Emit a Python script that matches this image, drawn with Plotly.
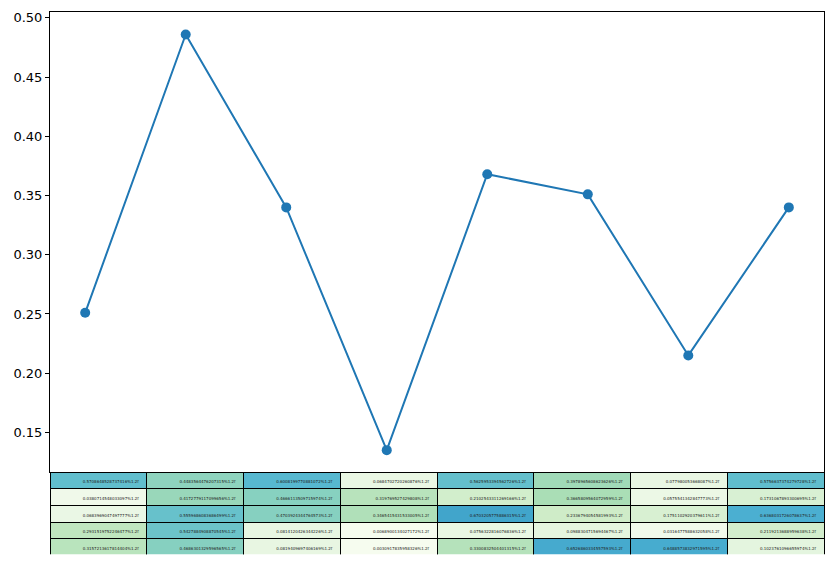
import plotly.graph_objects as go
from plotly.colors import sample_colorscale

# Line data
x_idx = [0, 1, 2, 3, 4, 5, 6, 7]
y_vals = [0.251, 0.486, 0.340, 0.135, 0.368, 0.351, 0.215, 0.340]

# Table values (5 rows x 8 columns)
row1 = [0.5708648528737416, 0.4483564476207315, 0.6008199770881072, 0.0684702720260876,
        0.5625953394562726, 0.3978965608623626, 0.0779800536680870, 0.5756637374279728]
row2 = [0.0380714548033097, 0.4172779117099656, 0.4666113509715974, 0.3197695274298080,
        0.2102543311269166, 0.3665809564072959, 0.0575541342847773, 0.1731067893300695]
row3 = [0.0683969047497777, 0.5559686083686499, 0.4703924344764573, 0.3465415431533005,
        0.6703205775886315, 0.2336794054581993, 0.1751102920379611, 0.6368031726078637]
row4 = [0.2931519752246477, 0.5427884908870545, 0.0814120426344226, 0.0068900134027172,
        0.0756322816076836, 0.0988304715694467, 0.0316477588632058, 0.2119213688959638]
row5 = [0.3157213617814404, 0.4686301329596565, 0.0819409697406169, 0.0030917835958326,
        0.3300832504401315, 0.6526860334557593, 0.6488573832971595, 0.1023761096655974]
rows = [row1, row2, row3, row4, row5]

gnbu = ["#f7fcf0", "#e0f3db", "#ccebc5", "#a8ddb5", "#7bccc4",
        "#4eb3d3", "#2b8cbe", "#0868ac", "#084081"]
scale = [[i / 8, c] for i, c in enumerate(gnbu)]

def color(v):
    return sample_colorscale(scale, [v])[0]

def label(v):
    return repr(v) + "%1.2f"

ncol = len(row1)
header_vals = [label(v) for v in row1]
header_fill = [color(v) for v in row1]
cell_vals = [[label(r[c]) for r in rows[1:]] for c in range(ncol)]
cell_fill = [[color(r[c]) for r in rows[1:]] for c in range(ncol)]

# page body has an 8px margin; keep the figure inside the window
W, H = 819, 549
ml, mr, mt, mb = 42, 2, 2, 2
ph = H - mt - mb
split = 83 / ph

fig = go.Figure()
fig.add_trace(go.Scatter(
    x=x_idx, y=y_vals, mode="lines+markers",
    line=dict(color="#1f77b4", width=2),
    marker=dict(color="#1f77b4", size=10),
    showlegend=False,
))
fig.add_trace(go.Table(
    domain=dict(x=[0, 1], y=[0, split]),
    columnwidth=[1] * ncol,
    header=dict(values=header_vals, fill_color=header_fill, align="right",
                height=16.6, line=dict(color="black", width=1),
                font=dict(size=4, color="#222", family="DejaVu Sans")),
    cells=dict(values=cell_vals, fill_color=cell_fill, align="right",
               height=16.6, line=dict(color="black", width=1),
               font=dict(size=4, color="#222", family="DejaVu Sans")),
))

fig.update_layout(
    width=W, height=H,
    margin=dict(l=ml, r=mr, t=mt, b=mb),
    paper_bgcolor="white", plot_bgcolor="white",
    font=dict(family="DejaVu Sans", size=13, color="black"),
    xaxis=dict(range=[-0.35, 7.35], showticklabels=False, ticks="",
               showgrid=False, zeroline=False, showline=True, mirror=True,
               linecolor="black", linewidth=1),
    yaxis=dict(domain=[split, 1], range=[0.1163, 0.505],
               tickvals=[0.15, 0.20, 0.25, 0.30, 0.35, 0.40, 0.45, 0.50],
               tickformat=".2f", ticks="outside", ticklen=4, tickcolor="black",
               showgrid=False, zeroline=False, showline=True, mirror=True,
               linecolor="black", linewidth=1),
)

fig.write_html("out.html")
